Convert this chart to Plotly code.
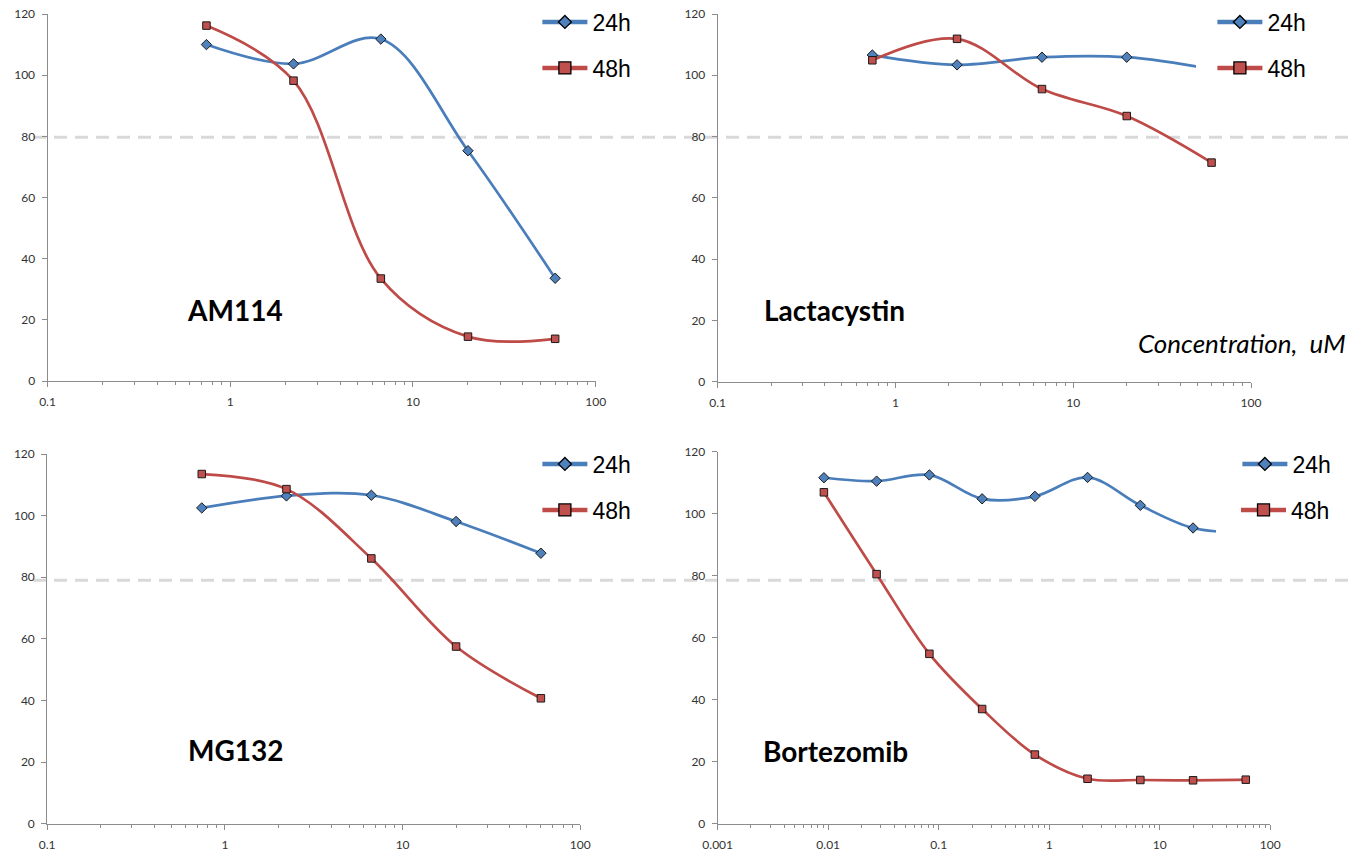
import plotly.graph_objects as go

# Concentrations (uM), 3-fold dilution series
conc5 = [0.741, 2.22, 6.67, 20, 60]
conc9 = [0.00914, 0.0274, 0.0823, 0.247, 0.741, 2.22, 6.67, 20, 60]

# Viability (% of control)
am114_24h = [110.0, 103.7, 111.8, 75.3, 33.6]
am114_48h = [116.2, 98.2, 33.5, 14.5, 13.8]
lact_24h = [106.6, 103.4, 105.9, 105.9, 102.0]
lact_48h = [104.9, 111.9, 95.5, 86.7, 71.5]
mg132_24h = [102.5, 106.4, 106.6, 98.1, 87.8]
mg132_48h = [113.5, 108.6, 86.1, 57.5, 40.7]
bort_24h = [111.6, 110.5, 112.5, 104.8, 105.6, 111.7, 102.7, 95.4, 94.0]
bort_48h = [106.9, 80.5, 54.8, 37.0, 22.3, 14.5, 14.1, 14.0, 14.2]

drug_names = ["AM114", "Lactacystin", "MG132", "Bortezomib"]
series_names = ["24h", "48h"]
y_ticks = [0, 20, 40, 60, 80, 100, 120]

BLUE_LINE, BLUE_FILL = "#4A7EBB", "#4F81BD"
RED_LINE, RED_FILL = "#BE4B48", "#C0504D"
AXIS_COL = "#8C8C8C"
TICK_FONT = dict(family="Lato, Liberation Sans, sans-serif", size=12, color="#333333")

W, H = 1351, 853

panels = [
    # (x values, 24h, 48h, x px range, y px range (top, bottom), log range)
    (conc5, am114_24h, am114_48h, (47.5, 595.7), (14, 381), (-1, 2)),
    (conc5, lact_24h, lact_48h, (717.7, 1251), (14, 381.7), (-1, 2)),
    (conc5, mg132_24h, mg132_48h, (47.2, 580.3), (454, 823.7), (-1, 2)),
    (conc9, bort_24h, bort_48h, (717.7, 1270.3), (451.7, 823.7), (-3, 2)),
]

fig = go.Figure()
layout = {}

for i, (xv, y24, y48, (px0, px1), (py0, py1), (lo, hi)) in enumerate(panels):
    n = "" if i == 0 else str(i + 1)
    xa, ya = "x" + n, "y" + n
    fig.add_trace(go.Scatter(
        x=xv, y=y24, xaxis=xa, yaxis=ya, mode="lines+markers", showlegend=False,
        line=dict(color=BLUE_LINE, width=2.7, shape="spline", smoothing=1),
        marker=dict(symbol="diamond", size=8, color=BLUE_FILL,
                    line=dict(color="#1A1A1A", width=1)),
        name=series_names[0]))
    fig.add_trace(go.Scatter(
        x=xv, y=y48, xaxis=xa, yaxis=ya, mode="lines+markers", showlegend=False,
        line=dict(color=RED_LINE, width=2.7, shape="spline", smoothing=1),
        marker=dict(symbol="square", size=7.5, color=RED_FILL,
                    line=dict(color="#1A1A1A", width=1)),
        name=series_names[1]))

    majors = [10 ** k for k in range(lo, hi + 1)]
    minors = [m * 10 ** k for k in range(lo, hi) for m in range(2, 10)]
    labels = [("%g" % v) for v in majors]

    layout["xaxis" + n] = dict(
        type="log", range=[lo, hi], domain=[px0 / W, px1 / W], anchor=ya,
        automargin=False,
        showgrid=False, zeroline=False, showline=True, linecolor=AXIS_COL, linewidth=1,
        ticks="outside", ticklen=5, tickcolor=AXIS_COL, tickwidth=1,
        tickvals=majors, ticktext=labels, tickfont=TICK_FONT, ticklabelstandoff=5,
        minor=dict(tickvals=minors, ticks="outside", ticklen=3, tickcolor=AXIS_COL, showgrid=False),
    )
    layout["yaxis" + n] = dict(
        range=[0, 120], domain=[1 - py1 / H, 1 - py0 / H], anchor=xa,
        automargin=False,
        showgrid=False, zeroline=False, showline=True, linecolor=AXIS_COL, linewidth=1,
        ticks="outside", ticklen=5, tickcolor=AXIS_COL, tickwidth=1,
        tickvals=y_ticks, tickfont=TICK_FONT, ticklabelstandoff=4,
    )

# Separate legend boxes for each panel (left edge, vertical centre in px, spacer size)
legend_pos = [
    (521, 22, 23), (521, 68, 23),
    (1196, 22, 23), (1196, 68, 23),
    (521, 464, 23), (521, 510, 23),
    (1221, 464, 23), (1216, 517, 36),
]
for j, (lx, ly, pad) in enumerate(legend_pos):
    key = "legend" if j == 0 else "legend%d" % (j + 1)
    is24 = j % 2 == 0
    fig.add_trace(go.Scatter(
        x=[None], y=[None], mode="lines+markers", name=series_names[0 if is24 else 1],
        legend=key, showlegend=True,
        line=dict(color=BLUE_LINE if is24 else RED_LINE, width=4.5),
        marker=dict(symbol="diamond" if is24 else "square", size=10 if is24 else 12,
                    color=BLUE_FILL if is24 else RED_FILL,
                    line=dict(color="#000000", width=1.3)),
    ))
    layout[key] = dict(
        x=lx / W, y=1 - ly / H, xanchor="left", yanchor="middle",
        bgcolor="white", borderwidth=0, itemwidth=45,
        title=dict(text="\u00a0", side="left", font=dict(size=pad)),
        font=dict(family="Liberation Sans, Arial, sans-serif", size=23, color="#000000"),
    )

# Drug name labels
title_pos = [(0.2505, 0.1935), (0.0825, 0.195), (0.26, 0.199), (0.079, 0.196)]
annotations = []
for i, (name, (ax, ay)) in enumerate(zip(drug_names, title_pos)):
    n = "" if i == 0 else str(i + 1)
    annotations.append(dict(
        text="<b>%s</b>" % name, xref="x%s domain" % n, yref="y%s domain" % n,
        x=ax, y=ay, xanchor="left", yanchor="middle", showarrow=False,
        font=dict(family="Lato, sans-serif", size=28, color="#000000")))
annotations.append(dict(
    text="<i>Concentration,  uM</i>", xref="paper", yref="paper",
    x=1136 / W, y=1 - 343 / H, xanchor="left", yanchor="middle", showarrow=False,
    font=dict(family="Lato, sans-serif", size=26, color="#000000")))

# 80 % reference lines across each row
shapes = [
    dict(type="line", xref="paper", yref="y", x0=33 / W, x1=1, y0=79.7, y1=79.7,
         line=dict(color="#D9D9D9", width=3, dash="13px,8px"), layer="below"),
    dict(type="line", xref="paper", yref="y3", x0=33 / W, x1=1, y0=79.0, y1=79.0,
         line=dict(color="#D9D9D9", width=3, dash="13px,8px"), layer="below"),
]

fig.update_layout(
    width=W, height=H, margin=dict(l=0, r=0, t=0, b=0, autoexpand=False),
    paper_bgcolor="white", plot_bgcolor="rgba(0,0,0,0)",
    annotations=annotations, shapes=shapes, **layout,
)

fig.write_html("out.html")
